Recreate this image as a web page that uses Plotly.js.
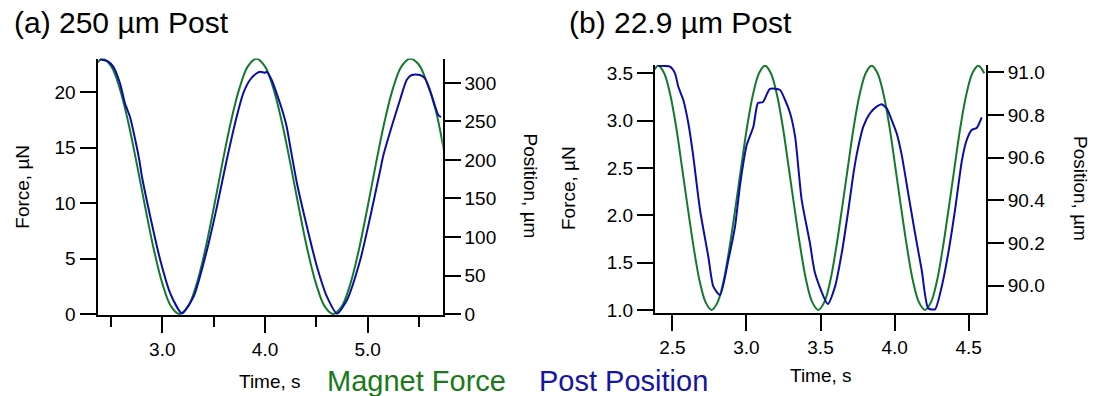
<!DOCTYPE html>
<html>
<head>
<meta charset="utf-8">
<script src="https://cdn.plot.ly/plotly-3.0.1.min.js"></script>
<style>html,body{margin:0;padding:0;background:#fff;}#chart{width:1093px;height:396px;}</style>
</head>
<body>
<div id="chart"></div>
<script>
// ---------- Panel (a): 250 µm post ----------
const timeA_force = [2.337,2.420,2.503,2.586,2.669,2.752,2.836,2.919,3.002,3.085,3.168,3.251,3.334,3.417,3.500,3.583,3.666,3.750,3.833,3.916,3.999,4.082,4.165,4.248,4.331,4.414,4.498,4.581,4.664,4.747,4.830,4.913,4.996,5.079,5.162,5.245,5.329,5.412,5.495,5.578,5.661,5.744];
const forceA = [22.31,23.00,22.31,20.31,17.25,13.50,9.50,5.75,2.69,0.69,0.00,0.69,2.69,5.75,9.50,13.50,17.25,20.31,22.31,23.00,22.31,20.31,17.25,13.50,9.50,5.75,2.69,0.69,0.00,0.69,2.69,5.75,9.50,13.50,17.25,20.31,22.31,23.00,22.50,20.80,18.40,14.60];
const timeA_pos = [2.393,2.474,2.522,2.588,2.636,2.685,2.737,2.776,2.802,2.883,2.980,3.077,3.191,3.305,3.435,3.532,3.627,3.724,3.788,3.853,3.919,3.951,4.000,4.016,4.065,4.113,4.162,4.211,4.243,4.311,4.408,4.506,4.603,4.701,4.798,4.927,5.025,5.122,5.153,5.233,5.314,5.379,5.428,5.509,5.557,5.606,5.687,5.713];
const positionA = [330.8,327.7,321.2,299.6,273.6,256.2,226.0,200.0,178.3,126.4,70.1,26.9,0.9,22.5,83.1,139.4,200.0,256.2,286.6,303.9,312.6,314.7,313.4,314.7,303.9,286.6,267.1,243.2,219.5,169.7,113.4,61.4,22.5,0.5,18.2,70.1,126.4,187.0,206.5,243.2,277.9,303.9,310.4,310.4,306.1,290.9,258.4,255.8];

// ---------- Panel (b): 22.9 µm post ----------
const timeB_force = [2.365,2.405,2.445,2.485,2.525,2.565,2.605,2.645,2.685,2.725,2.765,2.805,2.845,2.885,2.925,2.965,3.005,3.045,3.085,3.125,3.165,3.205,3.245,3.285,3.325,3.365,3.405,3.445,3.485,3.525,3.565,3.605,3.645,3.685,3.725,3.765,3.805,3.845,3.885,3.925,3.965,4.005,4.045,4.085,4.125,4.165,4.205,4.245,4.285,4.325,4.365,4.405,4.445,4.485,4.525,4.565,4.605];
const forceB = [3.50,3.58,3.50,3.28,2.94,2.51,2.07,1.65,1.30,1.08,1.00,1.08,1.30,1.65,2.07,2.51,2.94,3.28,3.50,3.58,3.50,3.28,2.94,2.51,2.07,1.65,1.30,1.08,1.00,1.08,1.30,1.65,2.07,2.51,2.94,3.28,3.50,3.58,3.50,3.28,2.94,2.51,2.07,1.65,1.30,1.08,1.00,1.08,1.30,1.65,2.07,2.51,2.94,3.28,3.50,3.58,3.50];
const timeB_pos = [2.405,2.484,2.518,2.540,2.574,2.608,2.640,2.687,2.743,2.777,2.822,2.878,2.923,2.957,3.002,3.047,3.078,3.112,3.159,3.227,3.261,3.295,3.329,3.373,3.429,3.463,3.549,3.598,3.643,3.688,3.721,3.744,3.789,3.834,3.879,3.913,3.947,3.980,4.014,4.048,4.092,4.138,4.183,4.227,4.273,4.318,4.362,4.408,4.455,4.487,4.520,4.554,4.588];
const positionB = [91.031,91.026,90.995,90.933,90.870,90.761,90.613,90.355,90.136,89.996,89.957,90.121,90.277,90.472,90.659,90.745,90.856,90.861,90.922,90.917,90.870,90.808,90.697,90.402,90.199,90.059,89.915,89.996,90.152,90.355,90.519,90.613,90.745,90.808,90.839,90.850,90.831,90.777,90.714,90.613,90.433,90.246,90.074,89.895,89.890,89.996,90.152,90.355,90.589,90.683,90.730,90.739,90.789];

const titles = ["(a) 250 µm Post", "(b) 22.9 µm Post"];
const legendLabels = ["Magnet Force", "Post Position"];

const GREEN = "#137a2c";
const BLUE = "#0c0ca8";
const FONT = "Liberation Sans, Arial, sans-serif";

const traces = [
  {x: timeA_force, y: forceA, xaxis: "x", yaxis: "y", mode: "lines", line: {color: GREEN, width: 2, shape: "spline", smoothing: 1}, showlegend: false},
  {x: timeA_pos, y: positionA, xaxis: "x", yaxis: "y2", mode: "lines", line: {color: BLUE, width: 2, shape: "spline", smoothing: 0.6}, showlegend: false},
  {x: timeB_force, y: forceB, xaxis: "x2", yaxis: "y3", mode: "lines", line: {color: GREEN, width: 2, shape: "spline", smoothing: 1}, showlegend: false},
  {x: timeB_pos, y: positionB, xaxis: "x2", yaxis: "y4", mode: "lines", line: {color: BLUE, width: 2, shape: "spline", smoothing: 0.6}, showlegend: false}
];

const axBase = {
  showline: true, linecolor: "#000", linewidth: 2, ticks: "outside", ticklen: 16, tickwidth: 2, tickcolor: "#000",
  showgrid: false, zeroline: false, tickfont: {family: FONT, size: 19, color: "#000"}, fixedrange: true
};

const W = 1093, H = 396;
const px = v => v / W;
const py = v => 1 - v / H;

const annFont = (size, color) => ({family: FONT, size: size, color: color || "#000"});

const layout = {
  width: W, height: H,
  margin: {l: 0, r: 0, t: 0, b: 0, pad: 0},
  paper_bgcolor: "#fff", plot_bgcolor: "rgba(0,0,0,0)",
  showlegend: false,
  xaxis: Object.assign({}, axBase, {domain: [px(97.5), px(442.7)], range: [2.369, 5.730], anchor: "y", tick0: 3, dtick: 1, tickformat: ".1f",
    minor: {dtick: 0.5, tick0: 2.5, ticks: "outside", ticklen: 10, tickwidth: 2, tickcolor: "#000", showgrid: false}}),
  yaxis: Object.assign({}, axBase, {domain: [py(315), py(58.5)], range: [-0.09, 23.02], anchor: "x", tick0: 0, dtick: 5}),
  yaxis2: Object.assign({}, axBase, {domain: [py(315), py(58.5)], range: [-1.3, 331.8], anchor: "x", overlaying: "y", side: "right", tick0: 0, dtick: 50}),
  xaxis2: Object.assign({}, axBase, {domain: [px(655), px(986)], range: [2.383, 4.617], anchor: "y3", tick0: 2.5, dtick: 0.5, tickformat: ".1f"}),
  yaxis3: Object.assign({}, axBase, {domain: [py(312.7), py(65)], range: [0.9715, 3.587], anchor: "x2", tick0: 1, dtick: 0.5, tickformat: ".1f"}),
  yaxis4: Object.assign({}, axBase, {domain: [py(312.7), py(65)], range: [89.874, 91.034], anchor: "x2", overlaying: "y3", side: "right", tick0: 90, dtick: 0.2, tickformat: ".1f"}),
  annotations: [
    {text: titles[0], xref: "paper", yref: "paper", x: px(12), y: py(22), xanchor: "left", yanchor: "middle", showarrow: false, font: annFont(30)},
    {text: titles[1], xref: "paper", yref: "paper", x: px(567), y: py(22), xanchor: "left", yanchor: "middle", showarrow: false, font: annFont(30)},
    {text: "Force, µN", xref: "paper", yref: "paper", x: px(23), y: py(186.7), xanchor: "center", yanchor: "middle", textangle: -90, showarrow: false, font: annFont(19)},
    {text: "Position, µm", xref: "paper", yref: "paper", x: px(530), y: py(185.5), xanchor: "center", yanchor: "middle", textangle: 90, showarrow: false, font: annFont(19)},
    {text: "Force, µN", xref: "paper", yref: "paper", x: px(569), y: py(188), xanchor: "center", yanchor: "middle", textangle: -90, showarrow: false, font: annFont(19)},
    {text: "Position, µm", xref: "paper", yref: "paper", x: px(1080), y: py(188), xanchor: "center", yanchor: "middle", textangle: 90, showarrow: false, font: annFont(19)},
    {text: "Time, s", xref: "paper", yref: "paper", x: px(270), y: py(381.7), xanchor: "center", yanchor: "middle", showarrow: false, font: annFont(19)},
    {text: "Time, s", xref: "paper", yref: "paper", x: px(820.8), y: py(375), xanchor: "center", yanchor: "middle", showarrow: false, font: annFont(19)},
    {text: legendLabels[0], xref: "paper", yref: "paper", x: px(325), y: py(381), xanchor: "left", yanchor: "middle", showarrow: false, font: annFont(29, "#1a7a1a")},
    {text: legendLabels[1], xref: "paper", yref: "paper", x: px(536.7), y: py(381), xanchor: "left", yanchor: "middle", showarrow: false, font: annFont(29, "#1414a6")}
  ]
};

Plotly.newPlot("chart", traces, layout, {displayModeBar: false, staticPlot: true});
</script>
</body>
</html>
